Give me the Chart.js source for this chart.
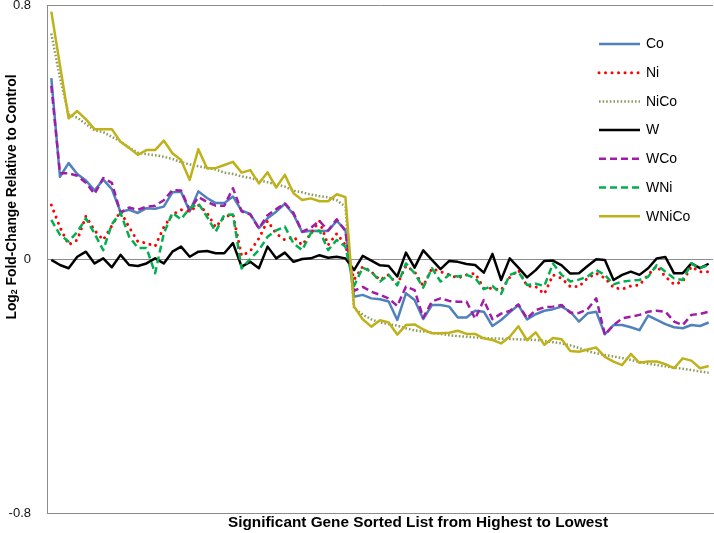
<!DOCTYPE html>
<html>
<head>
<meta charset="utf-8">
<script src="https://cdn.jsdelivr.net/npm/chart.js@4"></script>
<style>
  body { margin: 0; background: #fff; }
  canvas { display: block; }
</style>
</head>
<body>
<canvas id="fold-chart" width="714" height="533"></canvas>
<script>
// log2 fold-change per gene, genes sorted from highest to lowest (35 up, 42 down)
const co = [
  0.57, 0.259, 0.302, 0.268, 0.247, 0.216, 0.25, 0.22, 0.148, 0.155, 0.145, 0.16, 0.158, 0.165, 0.21, 0.212, 0.15, 0.213,
  0.192, 0.176, 0.176, 0.197, 0.152, 0.142, 0.097, 0.128, 0.149, 0.174, 0.14, 0.085, 0.089, 0.088, 0.088, 0.12, 0.092,
  -0.119, -0.113, -0.124, -0.127, -0.134, -0.192, -0.108, -0.129, -0.189, -0.145, -0.145, -0.15, -0.184, -0.184,
  -0.163, -0.166, -0.211, -0.192, -0.168, -0.145, -0.19, -0.174, -0.163, -0.158, -0.15, -0.166, -0.197, -0.171,
  -0.166, -0.237, -0.208, -0.208, -0.215, -0.224, -0.178, -0.192, -0.205, -0.215, -0.218, -0.208, -0.211, -0.2
]
const ni = [
  0.17, 0.1, 0.045, 0.06, 0.135, 0.09, 0.06, 0.105, 0.15, 0.1, 0.055, 0.05, 0.04, 0.1, 0.14, 0.155, 0.15, 0.17,
  0.145, 0.1, 0.133, 0.14, 0.01, 0.025, 0.065, 0.12, 0.08, 0.06, 0.07, 0.044, 0.08, 0.12, 0.044, 0.08, 0.044,
  -0.065, -0.024, -0.04, -0.066, -0.05, -0.08, -0.022, -0.04, -0.085, -0.03, -0.04, -0.05, -0.06, -0.05,
  -0.045, -0.092, -0.092, -0.098, -0.058, -0.035, -0.085, -0.087, -0.11, -0.05, -0.061, -0.087, -0.087, -0.06,
  -0.045, -0.06, -0.09, -0.095, -0.085, -0.082, -0.05, -0.022, -0.056, -0.08, -0.071, -0.024, -0.04, -0.04
]
const niCo = [
  0.71, 0.57, 0.455, 0.445, 0.425, 0.405, 0.4, 0.385, 0.37, 0.35, 0.335, 0.33, 0.327, 0.322, 0.315, 0.305, 0.298, 0.292,
  0.287, 0.282, 0.272, 0.268, 0.26, 0.255, 0.248, 0.242, 0.235, 0.228, 0.215, 0.21, 0.203, 0.198, 0.194, 0.185, 0.165,
  -0.155, -0.175, -0.19, -0.2, -0.205, -0.21, -0.218, -0.225, -0.228, -0.232, -0.236, -0.24, -0.243, -0.245,
  -0.247, -0.249, -0.25, -0.251, -0.252, -0.253, -0.254, -0.255, -0.258, -0.262, -0.266, -0.272, -0.28, -0.29,
  -0.297, -0.302, -0.307, -0.312, -0.318, -0.324, -0.33, -0.334, -0.338, -0.342, -0.346, -0.35, -0.354, -0.358
]
const w = [
  -0.003, -0.019, -0.029, 0.007, 0.023, -0.014, 0.002, -0.026, 0.013, -0.019, -0.022, -0.014, 0.002, -0.014, 0.023, 0.039, 0.007, 0.023,
  0.025, 0.018, 0.018, 0.05, -0.024, -0.009, -0.029, 0.039, 0.002, 0.02, -0.009, 0, 0.002, 0.012, 0.004, 0.007, 0.002,
  -0.035, 0.01, -0.005, -0.02, -0.022, -0.055, 0.02, -0.027, 0.027, -0.003, -0.032, -0.006, -0.009, -0.016,
  -0.019, -0.043, 0.016, -0.066, 0.002, -0.027, -0.058, -0.035, -0.006, -0.005, -0.02, -0.046, -0.045, -0.022,
  -0.001, -0.003, -0.066, -0.05, -0.04, -0.05, -0.029, 0.002, 0.006, -0.045, -0.045, -0.014, -0.029, -0.015
]
const wCo = [
  0.545, 0.27, 0.27, 0.262, 0.24, 0.205, 0.255, 0.24, 0.146, 0.162, 0.155, 0.165, 0.168, 0.185, 0.217, 0.216, 0.155, 0.195,
  0.18, 0.168, 0.168, 0.223, 0.15, 0.14, 0.097, 0.138, 0.157, 0.175, 0.145, 0.086, 0.098, 0.12, 0.09, 0.125, 0.088,
  -0.1, -0.088, -0.103, -0.113, -0.124, -0.148, -0.087, -0.098, -0.185, -0.134, -0.124, -0.132, -0.135, -0.134,
  -0.188, -0.129, -0.19, -0.172, -0.164, -0.143, -0.187, -0.161, -0.152, -0.15, -0.145, -0.169, -0.17, -0.158,
  -0.124, -0.239, -0.208, -0.187, -0.182, -0.176, -0.166, -0.163, -0.166, -0.197, -0.208, -0.176, -0.173, -0.166
]
const wNi = [
  0.123, 0.076, 0.055, 0.085, 0.128, 0.08, 0.028, 0.11, 0.145, 0.07, 0.035, 0.035, -0.045, 0.08, 0.145, 0.125, 0.16, 0.175,
  0.133, 0.086, 0.139, 0.14, -0.03, 0, 0.028, 0.07, 0.09, 0.102, 0.049, 0.028, 0.081, 0.09, 0.028, 0.06, 0.039,
  -0.085, -0.027, -0.04, -0.071, -0.05, -0.083, -0.014, -0.045, -0.09, -0.029, -0.071, -0.05, -0.055, -0.05,
  -0.06, -0.095, -0.085, -0.11, -0.05, -0.04, -0.082, -0.078, -0.085, -0.014, -0.05, -0.071, -0.065, -0.055,
  -0.035, -0.05, -0.08, -0.071, -0.068, -0.066, -0.056, -0.019, -0.04, -0.061, -0.066, -0.014, -0.029, -0.019
]
const wNiCo = [
  0.779, 0.61, 0.443, 0.466, 0.44, 0.409, 0.409, 0.409, 0.369, 0.35, 0.328, 0.343, 0.343, 0.373, 0.333, 0.312, 0.249, 0.346,
  0.286, 0.286, 0.296, 0.306, 0.272, 0.28, 0.238, 0.273, 0.225, 0.265, 0.207, 0.186, 0.191, 0.182, 0.182, 0.204, 0.195,
  -0.15, -0.19, -0.213, -0.193, -0.2, -0.238, -0.208, -0.206, -0.222, -0.234, -0.234, -0.232, -0.226, -0.236,
  -0.236, -0.25, -0.255, -0.266, -0.245, -0.212, -0.256, -0.231, -0.27, -0.249, -0.253, -0.29, -0.292, -0.285,
  -0.279, -0.308, -0.323, -0.334, -0.299, -0.327, -0.323, -0.323, -0.331, -0.344, -0.313, -0.32, -0.344, -0.337
]

const seriesNames = ['Co', 'Ni', 'NiCo', 'W', 'WCo', 'WNi', 'WNiCo']
const seriesValues = [co, ni, niCo, w, wCo, wNi, wNiCo]
const genes = co.map((v, i) => 'Gene ' + (i + 1))
const yTicks = [0.8, 0, -0.8]
const yTitle = ['Log', '2', ' Fold-Change Relative to Control']
const xTitle = 'Significant Gene Sorted List from Highest to Lowest'

const lineStyles = [
  { color: '#4F81BD', width: 2.5, dash: [], cap: 'butt' },
  { color: '#FF0000', width: 3, dash: [0.01, 6.5], cap: 'round' },
  { color: '#8C9C5E', width: 2.5, dash: [1.6, 2], cap: 'butt' },
  { color: '#000000', width: 2.5, dash: [], cap: 'butt' },
  { color: '#A01CA6', width: 2.5, dash: [7, 4], cap: 'butt' },
  { color: '#00B050', width: 2.5, dash: [7, 4], cap: 'butt' },
  { color: '#BFB11A', width: 2.5, dash: [], cap: 'butt' }
]

const gridColor = '#8C8C8C'

const datasets = seriesNames.map((name, i) => ({
  label: name,
  data: seriesValues[i],
  borderColor: lineStyles[i].color,
  backgroundColor: lineStyles[i].color,
  borderWidth: lineStyles[i].width,
  borderDash: lineStyles[i].dash,
  borderCapStyle: lineStyles[i].cap,
  borderJoinStyle: 'round',
  pointRadius: 0,
  tension: 0,
  fill: false,
  order: seriesNames.length - i
}))

function fitText(ctx, text, width) {
  const m = ctx.measureText(text).width
  return width / m
}

const decorations = {
  id: 'decorations',
  afterDraw(chart) {
    const ctx = chart.ctx
    ctx.save()

    // legend on the right
    chart.data.datasets.forEach((ds, i) => {
      const y = 44 + i * 28.7
      ctx.beginPath()
      ctx.strokeStyle = ds.borderColor
      ctx.lineWidth = ds.borderWidth
      ctx.setLineDash(ds.borderDash)
      ctx.lineCap = ds.borderCapStyle
      ctx.moveTo(599, y)
      ctx.lineTo(640, y)
      ctx.stroke()
      ctx.setLineDash([])
      ctx.fillStyle = '#000'
      ctx.font = '14px "Liberation Sans", Arial, sans-serif'
      ctx.textAlign = 'left'
      ctx.textBaseline = 'middle'
      ctx.fillText(ds.label, 646, y + 0.5)
    })

    // x axis title
    ctx.font = 'bold 15px "Liberation Sans", Arial, sans-serif'
    ctx.fillStyle = '#000'
    ctx.textBaseline = 'middle'
    ctx.textAlign = 'center'
    const sx = fitText(ctx, xTitle, 380)
    ctx.save()
    ctx.translate(418, 523)
    ctx.scale(sx, 1)
    ctx.fillText(xTitle, 0, 0)
    ctx.restore()

    // y axis title with subscript
    ctx.save()
    ctx.translate(12, 197)
    ctx.rotate(-Math.PI / 2)
    const big = 'bold 14px "Liberation Sans", Arial, sans-serif'
    const small = 'bold 9px "Liberation Sans", Arial, sans-serif'
    ctx.font = big
    const w1 = ctx.measureText(yTitle[0]).width
    const w3 = ctx.measureText(yTitle[2]).width
    ctx.font = small
    const w2 = ctx.measureText(yTitle[1]).width
    const total = w1 + w2 + w3
    const sy = 245 / total
    ctx.scale(sy, 1)
    ctx.textAlign = 'left'
    ctx.textBaseline = 'middle'
    let x = -total / 2
    ctx.font = big
    ctx.fillText(yTitle[0], x, 0)
    x += w1
    ctx.font = small
    ctx.fillText(yTitle[1], x, 3)
    x += w2
    ctx.font = big
    ctx.fillText(yTitle[2], x, 0)
    ctx.restore()

    ctx.restore()
  }
}

const conf = {
  type: 'line',
  data: { labels: genes, datasets: datasets },
  options: {
    responsive: false,
    animation: false,
    layout: { padding: { top: 5, right: 1, left: 0, bottom: 0 } },
    plugins: {
      legend: { display: false },
      tooltip: { enabled: false }
    },
    scales: {
      x: {
        offset: true,
        grid: { display: false },
        border: { display: true, color: gridColor, width: 1 },
        ticks: { display: false },
        afterFit: scale => {
          scale.height = 20
          scale.paddingLeft = 0
          scale.paddingRight = 0
        }
      },
      y: {
        min: -0.8,
        max: 0.8,
        afterBuildTicks: scale => {
          scale.ticks = yTicks.map(v => ({ value: v }))
        },
        grid: { color: gridColor, lineWidth: 1, drawTicks: false },
        border: { display: true, color: gridColor, width: 1 },
        ticks: {
          padding: 16,
          color: '#111',
          font: { family: '"Liberation Sans", Arial, sans-serif', size: 13 },
          callback: v => (v === 0 ? '0' : v.toFixed(1))
        },
        afterFit: scale => {
          scale.width = 47
          scale.paddingTop = 0
          scale.paddingBottom = 0
        }
      }
    }
  },
  plugins: [decorations]
}

new Chart(document.getElementById('fold-chart').getContext('2d'), conf)
</script>
</body>
</html>
